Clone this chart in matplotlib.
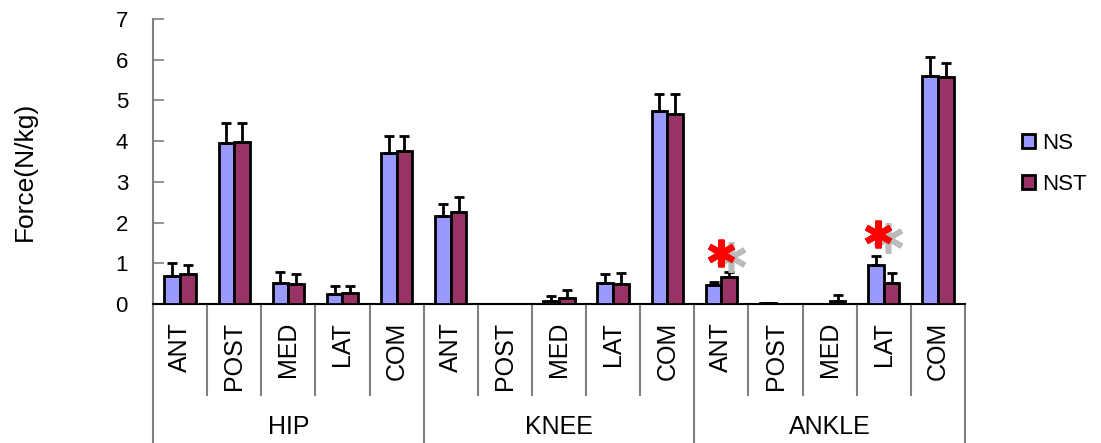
import matplotlib
matplotlib.use('Agg')
import matplotlib.pyplot as plt
import matplotlib.patches as mpatches
from matplotlib.lines import Line2D
import numpy as np

plt.rcParams['font.family'] = ['Liberation Sans', 'DejaVu Sans']

# Data
groups = ['HIP', 'KNEE', 'ANKLE']
directions = ['ANT', 'POST', 'MED', 'LAT', 'COM']
ns_mean = [0.70, 3.95, 0.51, 0.25, 3.72,
           2.16, 0.01, 0.08, 0.52, 4.73,
           0.47, 0.03, 0.01, 0.95, 5.60]
ns_err = [0.31, 0.50, 0.27, 0.20, 0.40,
          0.30, 0.00, 0.12, 0.22, 0.42,
          0.07, 0.00, 0.00, 0.23, 0.46]
nst_mean = [0.73, 3.97, 0.48, 0.27, 3.77,
            2.25, 0.01, 0.15, 0.50, 4.67,
            0.67, 0.01, 0.07, 0.52, 5.58]
nst_err = [0.23, 0.48, 0.26, 0.17, 0.35,
           0.39, 0.00, 0.19, 0.27, 0.50,
           0.11, 0.00, 0.14, 0.25, 0.35]
# significance markers (category position, height)
sig_x = [10.0, 12.9]
sig_y = [1.25, 1.72]

ns_color = '#9999FF'
nst_color = '#993366'
grid_gray = '#808080'

fig = plt.figure(figsize=(11.01, 4.43), dpi=100)
ax = fig.add_axes([153 / 1101, 139 / 443, 812 / 1101, 285 / 443])

n = len(ns_mean)
x = np.arange(n)
w = 0.29
err_kw = dict(ecolor='black', elinewidth=2, capsize=3.5, capthick=2)
ax.bar(x - w / 2, ns_mean, w, color=ns_color, edgecolor='black', linewidth=2,
       yerr=[np.zeros(n), ns_err], error_kw=err_kw, zorder=3)
ax.bar(x + w / 2, nst_mean, w, color=nst_color, edgecolor='black', linewidth=2,
       yerr=[np.zeros(n), nst_err], error_kw=err_kw, zorder=3)

# significance asterisks with grey shadow
for sx, sy in zip(sig_x, sig_y):
    ax.plot(sx + 0.17, sy - 0.1, marker=(6, 2, 0), markersize=22, mew=4,
            color='#BBBBBB', zorder=4, clip_on=False)
    ax.plot(sx, sy, marker=(6, 2, 0), markersize=20, mew=4.5,
            color='#FF0000', zorder=5, clip_on=False)

ax.set_xlim(-0.5, n - 0.5)
ax.set_ylim(0, 7)
ax.set_yticks(range(0, 8))
ax.tick_params(axis='y', direction='in', length=8, width=1.2, color=grid_gray,
               labelsize=16, pad=18)
ax.set_xticks([])
for s in ['top', 'right']:
    ax.spines[s].set_visible(False)
ax.spines['left'].set_color(grid_gray)
ax.spines['left'].set_linewidth(1.5)
ax.spines['bottom'].set_color('black')
ax.spines['bottom'].set_linewidth(1.5)

# two-level category axis
trans = ax.get_xaxis_transform()
for i in range(n):
    ax.text(x[i], -0.063, directions[i % 5], rotation=90, ha='center', va='top',
            fontsize=18, transform=trans)
for b in range(n + 1):
    bottom = -0.488 if b % 5 == 0 else -0.319
    ax.add_line(Line2D([b - 0.5, b - 0.5], [0, bottom], color=grid_gray,
                       linewidth=1.5, transform=trans, clip_on=False))
for g, name in enumerate(groups):
    ax.text(g * 5 + 2, -0.4316, name, ha='center', va='center', fontsize=18,
            transform=trans)

fig.text(25 / 1101, 1 - 171 / 443, 'Force(N/kg)', rotation=90, ha='center',
         va='center', fontsize=19)

handles = [mpatches.Patch(facecolor=ns_color, edgecolor='black', linewidth=2, label='NS'),
           mpatches.Patch(facecolor=nst_color, edgecolor='black', linewidth=2, label='NST')]
fig.legend(handles=handles, loc='center left', bbox_to_anchor=(1011 / 1101, 1 - 164 / 443),
           frameon=False, fontsize=16, handlelength=0.6, handleheight=0.6,
           handletextpad=0.3, labelspacing=0.9, borderpad=0)

fig.savefig('out.png', dpi=100, facecolor='white')
